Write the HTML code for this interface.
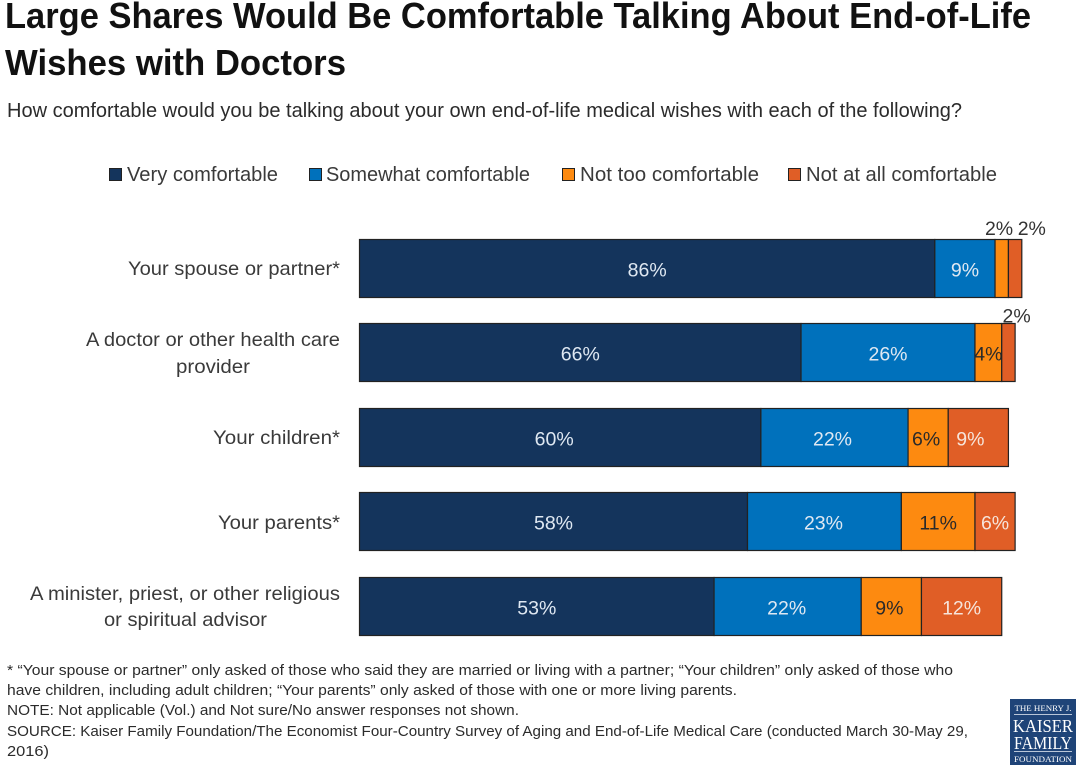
<!DOCTYPE html>
<html lang="en">
<head>
<meta charset="utf-8">
<title>End-of-Life Wishes Chart</title>
<style>
html,body{margin:0;padding:0;background:#fff;}
body{width:1086px;height:772px;overflow:hidden;}
svg{display:block;}
text{font-family:"Liberation Sans",Arial,sans-serif;}
.title{font-size:36px;font-weight:bold;fill:#111;}
.sub{font-size:20px;fill:#2b2b2b;}
.leg{font-size:20px;fill:#3a3a3a;}
.cat{font-size:19.5px;fill:#3a3a3a;text-anchor:end;}
.note{font-size:14.5px;fill:#2b2b2b;}
.val{font-size:19.5px;text-anchor:middle;}
.logo{fill:#fff;font-family:"Liberation Serif",serif;text-anchor:middle;}
</style>
</head>
<body>
<svg id="chart" xmlns="http://www.w3.org/2000/svg" width="1086" height="772" viewBox="0 0 1086 772">
  <text class="title" x="5" y="28" textLength="1026" lengthAdjust="spacingAndGlyphs">Large Shares Would Be Comfortable Talking About End-of-Life</text>
  <text class="title" x="5" y="75" textLength="341" lengthAdjust="spacingAndGlyphs">Wishes with Doctors</text>
  <text class="sub" x="7" y="117" textLength="955" lengthAdjust="spacingAndGlyphs">How comfortable would you be talking about your own end-of-life medical wishes with each of the following?</text>

  <g id="legend"></g>
  <g id="categories">
    <text class="cat" x="340" y="275" textLength="212" lengthAdjust="spacingAndGlyphs">Your spouse or partner*</text>
    <text class="cat" x="340" y="346" textLength="254" lengthAdjust="spacingAndGlyphs">A doctor or other health care</text>
    <text class="cat" x="250" y="373" textLength="74" lengthAdjust="spacingAndGlyphs">provider</text>
    <text class="cat" x="340" y="444" textLength="127" lengthAdjust="spacingAndGlyphs">Your children*</text>
    <text class="cat" x="340" y="529" textLength="122" lengthAdjust="spacingAndGlyphs">Your parents*</text>
    <text class="cat" x="340" y="600" textLength="310" lengthAdjust="spacingAndGlyphs">A minister, priest, or other religious</text>
    <text class="cat" x="267" y="626" textLength="163" lengthAdjust="spacingAndGlyphs">or spiritual advisor</text>
  </g>
  <g id="bars"></g>

  <g>
    <text class="note" x="7" y="675" textLength="946" lengthAdjust="spacingAndGlyphs">* “Your spouse or partner” only asked of those who said they are married or living with a partner; “Your children” only asked of those who</text>
    <text class="note" x="7" y="695" textLength="730" lengthAdjust="spacingAndGlyphs">have children, including adult children; “Your parents” only asked of those with one or more living parents.</text>
    <text class="note" x="7" y="715" textLength="512" lengthAdjust="spacingAndGlyphs">NOTE: Not applicable (Vol.) and Not sure/No answer responses not shown.</text>
    <text class="note" x="7" y="736" textLength="961" lengthAdjust="spacingAndGlyphs">SOURCE: Kaiser Family Foundation/The Economist Four-Country Survey of Aging and End-of-Life Medical Care (conducted March 30-May 29,</text>
    <text class="note" x="7" y="756" textLength="42" lengthAdjust="spacingAndGlyphs">2016)</text>
  </g>

  <g>
    <rect x="1010" y="699" width="66" height="66" fill="#1f4478"/>
    <text class="logo" x="1043" y="711" font-size="8" textLength="57" lengthAdjust="spacingAndGlyphs">THE HENRY J.</text>
    <rect x="1014" y="714" width="58" height="1" fill="#b9c6d8"/>
    <text class="logo" x="1043" y="732" font-size="18" textLength="60" lengthAdjust="spacingAndGlyphs">KAISER</text>
    <text class="logo" x="1043" y="749" font-size="18" textLength="58" lengthAdjust="spacingAndGlyphs">FAMILY</text>
    <rect x="1014" y="751" width="58" height="1" fill="#b9c6d8"/>
    <text class="logo" x="1043" y="762" font-size="8" textLength="58" lengthAdjust="spacingAndGlyphs">FOUNDATION</text>
  </g>
</svg>
<script>
const seriesNames = ["Very comfortable", "Somewhat comfortable", "Not too comfortable", "Not at all comfortable"];
const categories = ["Your spouse or partner", "A doctor or other health care provider", "Your children", "Your parents", "A minister, priest, or other religious or spiritual advisor"];
const veryComfortable = [86, 66, 60, 58, 53];
const somewhatComfortable = [9, 26, 22, 23, 22];
const notTooComfortable = [2, 4, 6, 11, 9];
const notAtAllComfortable = [2, 2, 9, 6, 12];

const seriesValues = [veryComfortable, somewhatComfortable, notTooComfortable, notAtAllComfortable];
const seriesColors = ["#14345c", "#0071bc", "#fd8a10", "#e05e26"];
const labelColors = ["#dfe8f2", "#dfe8f2", "#2a2a2a", "#f6e4da"];
const legendSwatchX = [109, 309, 562, 788];
const legendTextX = [127, 326, 580, 806];
const legendTextWidths = [151, 204, 179, 191];

const NS = "http://www.w3.org/2000/svg";
const xScale = v => 359.5 + v * 6.69;
const rowTop = i => Math.floor(239.3 + i * 84.45) + 0.5;
const barHeight = 58;

// Hand-placement offsets the original chart applied to individual value labels.
function labelNudge(row, series) {
  if (row === 2) return [-6, -2, -2, -8][series];
  if (row === 3 && series === 1) return -1;
  if (row === 4) return [0, -1, -2, 0][series];
  return 0;
}

function make(tag, attrs, parent) {
  const el = document.createElementNS(NS, tag);
  for (const k in attrs) el.setAttribute(k, attrs[k]);
  parent.appendChild(el);
  return el;
}

const legend = document.getElementById("legend");
seriesNames.forEach((name, s) => {
  const swatch = make("rect", {x: legendSwatchX[s] + 0.5, y: 168.5, width: 12, height: 12, fill: seriesColors[s], stroke: "#222", "stroke-width": 1}, legend);
  
  
  const t = make("text", {class: "leg", x: legendTextX[s], y: 181, textLength: legendTextWidths[s], lengthAdjust: "spacingAndGlyphs"}, legend);
  t.textContent = name;
  
  
});

const bars = document.getElementById("bars");
categories.forEach((cat, i) => {
  let cum = 0;
  const y = rowTop(i);
  seriesValues.forEach((vals, s) => {
    const v = vals[i];
    const x0 = xScale(cum), x1 = xScale(cum + v);
    const r = make("rect", {x: x0, y: y, width: x1 - x0, height: barHeight, fill: seriesColors[s], stroke: "#222", "stroke-width": 1.2}, bars);
    
    
    const t = make("text", {class: "val", x: (x0 + x1) / 2 + labelNudge(i, s), y: y + 37, fill: labelColors[s]}, bars);
    if (v <= 2) {
      t.setAttribute("fill", "#333");
      t.setAttribute("y", i === 0 ? y - 4.5 : y - 1);
      t.setAttribute("x", s === 3 ? x1 + (i === 0 ? 10 : 1.5) : x0 + 4);
    }
    t.textContent = v + "%";
    
    
    cum += v;
  });
});
</script>
</body>
</html>
